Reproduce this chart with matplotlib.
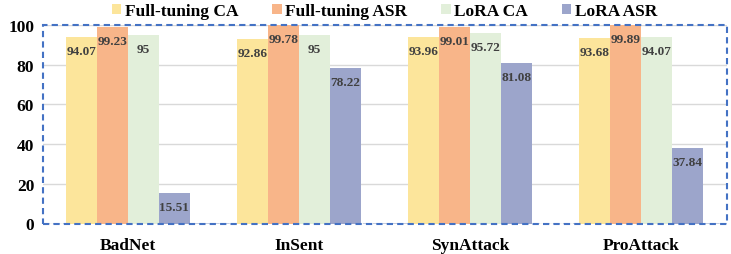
import matplotlib
matplotlib.use("Agg")
import matplotlib.pyplot as plt
from matplotlib.patches import Rectangle
import numpy as np

categories = ["BadNet", "InSent", "SynAttack", "ProAttack"]
series_names = ["Full-tuning CA", "Full-tuning ASR", "LoRA CA", "LoRA ASR"]
ft_ca = [94.07, 92.86, 93.96, 93.68]
ft_asr = [99.23, 99.78, 99.01, 99.89]
lora_ca = [95, 95, 95.72, 94.07]
lora_asr = [15.51, 78.22, 81.08, 37.84]
yticks = [0, 20, 40, 60, 80, 100]

colors = ["#FCE59B", "#F8B589", "#E2EFDA", "#9CA5CB"]
serif = ["Liberation Serif", "DejaVu Serif"]

fig = plt.figure(figsize=(7.31, 2.55), dpi=100)
ax = fig.add_axes([42.5 / 731, 30.5 / 255, 684 / 731, 198.5 / 255])

x = np.arange(len(categories))
w = 0.181
data = [ft_ca, ft_asr, lora_ca, lora_asr]
for i, (vals, c, name) in enumerate(zip(data, colors, series_names)):
    pos = x + (i - 1.5) * w
    bars = ax.bar(pos, vals, width=w, color=c, label=name, zorder=2)
    for b, v in zip(bars, vals):
        ax.annotate(f"{v:g}", (b.get_x() + b.get_width() / 2, v),
                    xytext=(0, -14), textcoords="offset pixels",
                    ha="center", va="center", fontsize=9.5,
                    fontweight="bold", color="#404040", family=serif,
                    zorder=3)

ax.set_xlim(-0.5, 3.5)
ax.set_ylim(0, 100)
ax.set_yticks(yticks)
ax.set_yticklabels([str(t) for t in yticks], fontsize=12.5, fontweight="bold",
                   family=serif)
ax.set_xticks(x)
ax.set_xticklabels(categories, fontsize=12.5, fontweight="bold", family=serif)
ax.tick_params(length=0, pad=6)
ax.tick_params(axis="x", pad=10)
ax.grid(axis="y", color="#d9d9d9", linewidth=1, zorder=0)
for s in ax.spines.values():
    s.set_visible(False)
ax.axhline(0, color="#b8c4dc", linewidth=1.2, linestyle=(0, (4, 2)), zorder=1)

rect = Rectangle((0, 0), 1, 1, transform=ax.transAxes, fill=False,
                 edgecolor="#4472C4", linewidth=1.5, linestyle=(0, (3, 2)),
                 clip_on=False, zorder=4)
ax.add_patch(rect)

leg = fig.legend(loc="upper center", bbox_to_anchor=(384.5 / 731, 1.045), ncol=4,
                 frameon=False, prop={"family": serif, "weight": "bold", "size": 12.5},
                 handlelength=0.55, handleheight=0.55, handletextpad=0.2,
                 columnspacing=1.95)

fig.savefig("out.png", dpi=100)
